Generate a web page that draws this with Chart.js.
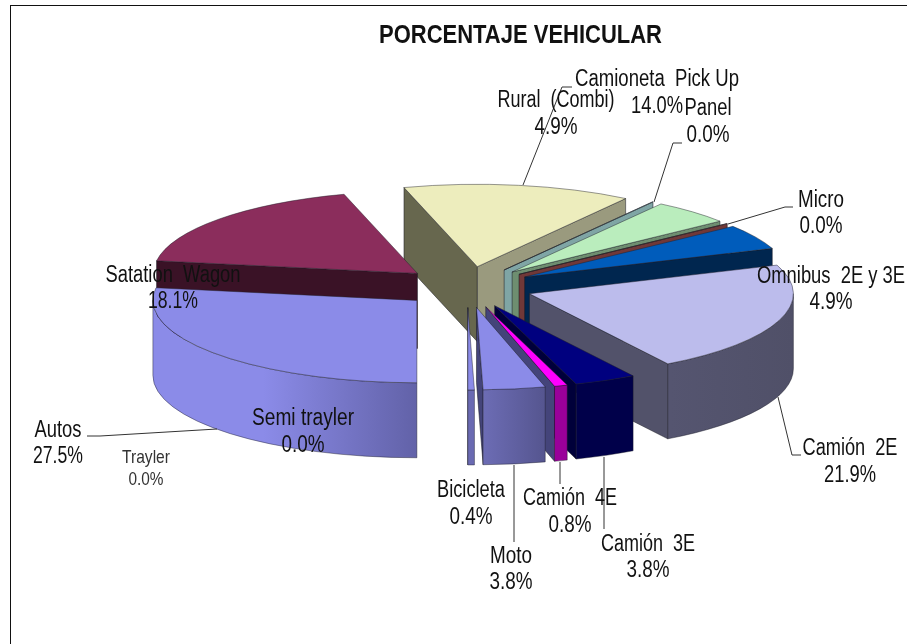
<!DOCTYPE html>
<html><head><meta charset="utf-8">
<style>html,body{margin:0;padding:0;background:#fff}canvas{display:block}</style>
<script src="https://cdn.jsdelivr.net/npm/chart.js@4"></script>
</head><body><canvas id="c" width="907" height="644"></canvas>
<script>
// ---- data ----
const categories = ['Autos','Satation  Wagon','Camioneta  Pick Up','Panel','Rural  (Combi)','Micro','Omnibus  2E y 3E','Camión  2E','Camión  3E','Camión  4E','Moto','Bicicleta','Trayler','Semi trayler'];
const shares = [27.5,18.1,14.0,0.04,4.9,0.04,4.9,21.9,3.8,0.8,3.8,0.4,0,0];
const chartTitle = 'PORCENTAJE VEHICULAR';
// ---- style ----
const topColors  = ['#8B8BE8','#8B2D5C','#EDEDBD','#9CC4C4','#BAEDBD','#9A4B4B','#005CBB','#BCBCEC','#00007F','#FF00FF','#8B8BE8','#8B8BE8','#8B8BE8','#8B8BE8'];
const startFace  = ['#6A6AAE','#3A1226','#67674E','#7FA5A5','#6E8E70','#703838','#00264F','#52526A','#00004A','#99009A','#44447A','#44447A','#555','#555'];
const endFace    = ['#6A6AAE','#3A1226','#9A9A7E','#7FA5A5','#6E8E70','#703838','#00264F','#52526A','#00003A','#44447A','#44447A','#44447A','#555','#555'];
const rimLeft    = ['#8B8BE8','#3A1226','#9A9A7E','#7FA5A5','#6E8E70','#703838','#00264F','#555570','#00004A','#99009A','#6C6CB4','#6A6AB2','#555','#555'];
const rimRight   = ['#6262A8','#3A1226','#9A9A7E','#7FA5A5','#6E8E70','#703838','#00264F','#505068','#00004A','#99009A','#55558F','#6A6AB2','#555','#555'];
const RADIUS = 264, EXPLODE = 66, SQUASH = 0.312, DEPTH = 75, CX = 467, CY = 287;
// label layout: [centre x, name baseline, value baseline, font size, name width, value width]
const labelLayout = [
 [58,437,463,23,47,50],[173,282,308,23,135,50],[657,86,113,23,164,52],[708,115,142,23,47,43],
 [556,107,134,23,117,43],[821,207,233,23,46,43],[831,283,309,23,148,43],[850,455,482,23,95,52],
 [648,551,577,23,94,43],[570,505,532,23,94,43],[511,563,589,23,42,43],[471,497,524,23,68,43],
 [146,463,485,19,48,35],[303,425,452,23,102,43]
];
const leaders = [
 [[87,436],[100,436],[217,429]],
 [[572,87],[562,87],[523,185]],
 [[682,143],[673,143],[654,202]],
 [[793,207],[785,207],[728,224]],
 [[801,455],[792,455],[778,397]],
 [[604,457],[604,529]],
 [[560,462],[560,484]],
 [[514,465],[514,542]]
];

function toScreen(chart){
  return {ox: chart.chartArea.left + chart.chartArea.width/2,
          oy: chart.chartArea.top + chart.chartArea.height/2};
}
function fitText(ctx, text, x, y, font, width){
  ctx.save();
  ctx.font = font;
  ctx.textAlign = 'center';
  ctx.textBaseline = 'alphabetic';
  const w = ctx.measureText(text).width;
  ctx.translate(x, y);
  ctx.scale(width / w, 1);
  ctx.fillText(text, 0, 0);
  ctx.restore();
}
const pie3d = {
  id: 'pie3d',
  afterDatasetsUpdate(chart){
    chart.getDatasetMeta(0).data.forEach(arc => {
      const mid = (arc.startAngle + arc.endAngle) / 2;
      arc.x += Math.cos(mid) * EXPLODE;
      arc.y += Math.sin(mid) * EXPLODE;
    });
  },
  beforeDatasetsDraw(chart){
    const ctx = chart.ctx, {ox, oy} = toScreen(chart);
    const meta = chart.getDatasetMeta(0);
    const items = meta.data.map((arc,i)=>({arc,i})).filter(o => o.arc.circumference > 0);
    items.sort((a,b) => a.arc.y - b.arc.y);
    items.forEach(({arc,i}) => {
      const x = CX + (arc.x - ox), y = CY + (arc.y - oy) * SQUASH;
      const R = arc.outerRadius, r2 = R * SQUASH;
      const s = arc.startAngle, e = arc.endAngle;
      const face = (ang, col) => {
        const px = x + Math.cos(ang) * R, py = y + Math.sin(ang) * r2;
        ctx.beginPath();
        ctx.moveTo(x, y); ctx.lineTo(px, py); ctx.lineTo(px, py + DEPTH); ctx.lineTo(x, y + DEPTH);
        ctx.closePath();
        ctx.fillStyle = col; ctx.fill();
        ctx.strokeStyle = 'rgba(25,25,35,0.75)'; ctx.lineWidth = 0.7; ctx.stroke();
      };
      if (Math.cos(s) < 0) face(s, startFace[i]);
      if (Math.cos(e) > 0) face(e, endFace[i]);
      for (let k = -1; k <= 2; k++) {
        const lo = Math.max(s, 2*Math.PI*k), hi = Math.min(e, Math.PI + 2*Math.PI*k);
        if (hi <= lo) continue;
        const x1 = x + Math.cos(lo)*R, x2 = x + Math.cos(hi)*R;
        const g = ctx.createLinearGradient(Math.min(x1,x2),0,Math.max(x1,x2)+0.01,0);
        g.addColorStop(0, rimLeft[i]);
        g.addColorStop(i === 0 ? 0.42 : 0.02, rimLeft[i]);
        g.addColorStop(1, rimRight[i]);
        ctx.beginPath();
        ctx.ellipse(x, y, R, r2, 0, lo, hi, false);
        ctx.ellipse(x, y + DEPTH, R, r2, 0, hi, lo, true);
        ctx.closePath();
        ctx.fillStyle = g; ctx.fill();
        ctx.strokeStyle = 'rgba(25,25,35,0.6)'; ctx.lineWidth = 0.7; ctx.stroke();
      }
    });
    ctx.save();
    ctx.translate(CX, CY);
    ctx.scale(1, SQUASH);
    ctx.translate(-ox, -oy);
  },
  afterDatasetsDraw(chart){
    const ctx = chart.ctx, {ox, oy} = toScreen(chart);
    ctx.restore();
    chart.getDatasetMeta(0).data.forEach(arc => {
      if (!(arc.circumference > 0)) return;
      const x = CX + (arc.x - ox), y = CY + (arc.y - oy) * SQUASH;
      ctx.beginPath();
      ctx.moveTo(x, y);
      ctx.ellipse(x, y, arc.outerRadius, arc.outerRadius * SQUASH, 0, arc.startAngle, arc.endAngle, false);
      ctx.closePath();
      ctx.strokeStyle = 'rgba(30,30,40,0.65)'; ctx.lineWidth = 0.7; ctx.stroke();
    });
  },
  afterDraw(chart){
    const ctx = chart.ctx;
    ctx.save();
    // frame
    ctx.fillStyle = '#111';
    ctx.fillRect(10, 5, 897, 1);
    ctx.fillRect(10, 5, 1, 639);
    // leaders
    ctx.strokeStyle = '#333'; ctx.lineWidth = 1;
    leaders.forEach(p => {
      ctx.beginPath();
      p.forEach((q,j) => j ? ctx.lineTo(q[0],q[1]) : ctx.moveTo(q[0],q[1]));
      ctx.stroke();
    });
    // text
    ctx.fillStyle = '#111';
    fitText(ctx, chartTitle, 520.5, 43, 'bold 26px "Liberation Sans"', 283);
    categories.forEach((name,i) => {
      const [x,y1,y2,size,w1,w2] = labelLayout[i];
      const font = size + 'px "Liberation Sans"';
      ctx.fillStyle = size < 20 ? '#333' : '#111';
      fitText(ctx, name, x, y1, font, w1);
      fitText(ctx, shares[i].toFixed(1) + '%', x, y2, font, w2);
    });
    ctx.restore();
  }
};
new Chart(document.getElementById('c'), {
  type: 'pie',
  data: { labels: categories, datasets: [{ data: shares, backgroundColor: topColors, borderWidth: 0, clip: false }] },
  options: {
    responsive: false, animation: false, rotation: 180, radius: RADIUS,
    layout: { padding: 0 },
    plugins: { legend: {display:false}, tooltip: {enabled:false}, title: {display:false} }
  },
  plugins: [pie3d]
});
</script></body></html>
